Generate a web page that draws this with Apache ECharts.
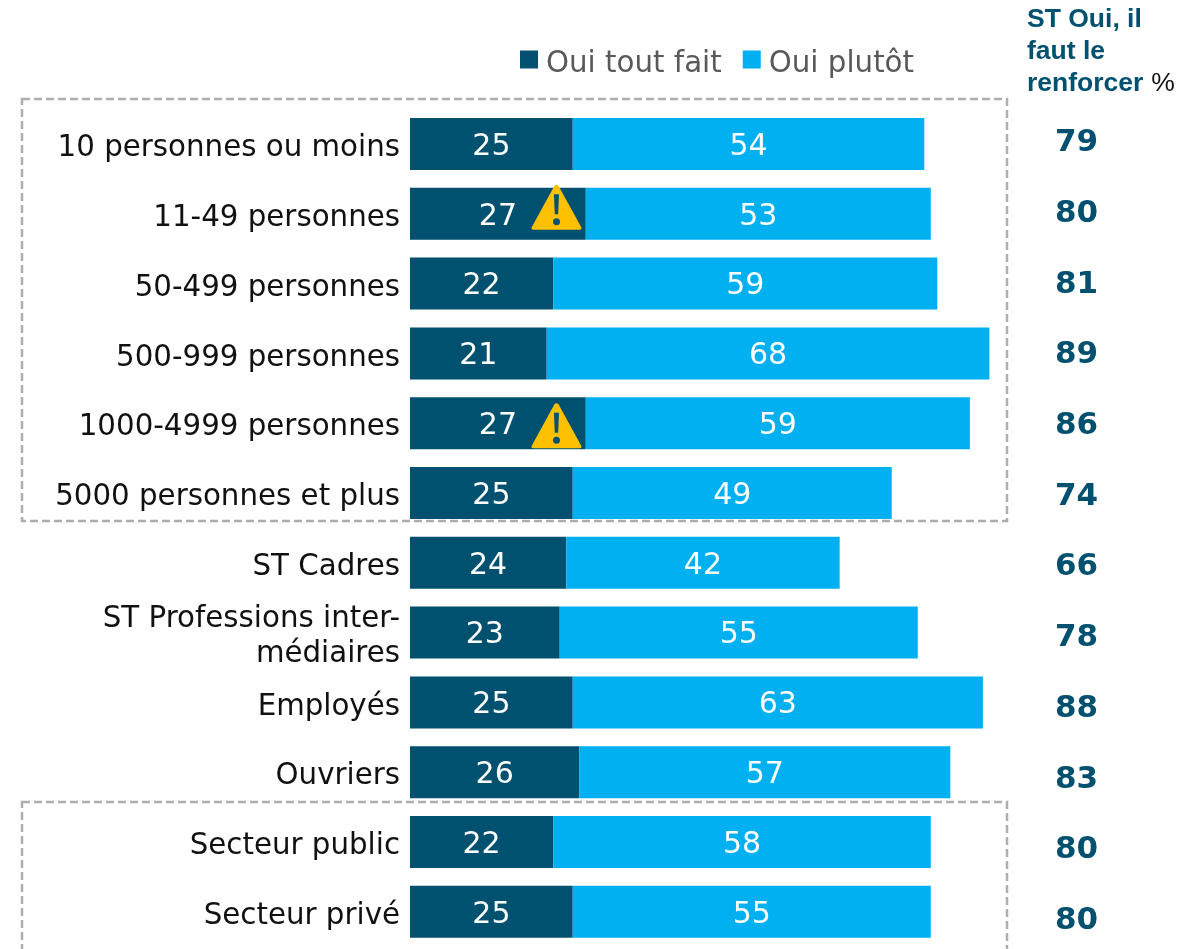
<!DOCTYPE html>
<html><head><meta charset="utf-8">
<style>html,body{margin:0;padding:0;background:#fff}#c{width:1195px;height:949px}</style>
<script src="https://cdn.jsdelivr.net/npm/echarts@6/dist/echarts.min.js"></script>
</head><body><div id="c"></div>
<script>
const categories = ['10 personnes ou moins','11-49 personnes','50-499 personnes','500-999 personnes','1000-4999 personnes','5000 personnes et plus','ST Cadres','ST Professions inter-\nmédiaires','Employés','Ouvriers','Secteur public','Secteur privé'];
const toutFait = [25,27,22,21,27,25,24,23,25,26,22,25];
const plutot = [54,53,59,68,59,49,42,55,63,57,58,55];
const totals = [79,80,81,89,86,74,66,78,88,83,80,80];
const warnedRows = ['11-49 personnes','1000-4999 personnes'];
const warnX = 22.5;

const DARK = '#00516F', BLUE = '#00B0F0', AMBER = '#FFC000';
const TRIANGLE = 'path://M46 3 Q50 -1 54 3 L99 84 Q102 90 96 90 L4 90 Q-2 90 1 84 Z';
const BANG = 'path://M1 0 H6 L5.2 20 H1.8 Z M3.5 24 A3.5 3.5 0 1 0 3.51 24 Z';
const LEGEND_ICON = 'path://M0 0H18V18H0Z M0 28H0.01V28.01H0Z';
const warnOffsets = [[-6.5,-4],[2.5,5]];
const warnMarks = warnedRows.flatMap((r,i) => [
  {coord:[warnX,r],symbol:TRIANGLE,symbolSize:[50,45],symbolOffset:[0,warnOffsets[i][0]],itemStyle:{color:AMBER}},
  {coord:[warnX,r],symbol:BANG,symbolSize:[7,31],symbolOffset:[0,warnOffsets[i][1]],itemStyle:{color:DARK}}
]);
const font = '"DejaVu Sans"';
const barLabel = {show:true,position:'inside',offset:[0,3],color:'#fff',fontFamily:font,fontSize:30};

const chart = echarts.init(document.getElementById('c'),null,{renderer:'canvas'});
chart.setOption({
  animation:false,
  backgroundColor:'#fff',
  title:{
    left:1022,top:-1,
    text:'{h|ST Oui, il}\n{h|faut le}\n{h|renforcer} {p|%}',
    textStyle:{fontWeight:'normal',rich:{
      h:{fontFamily:'"Liberation Sans"',fontWeight:'bold',fontSize:26.5,color:DARK,lineHeight:32},
      p:{fontFamily:'"Liberation Sans"',fontWeight:'normal',fontSize:26.5,color:'#111',lineHeight:32,padding:[0,0,0,3]}
    }}
  },
  legend:{
    left:515,top:45,itemWidth:18,itemHeight:28,itemGap:21,icon:LEGEND_ICON,
    data:['Oui tout fait','Oui plutôt'],
    textStyle:{fontFamily:font,fontSize:29.3,color:'#595959',padding:[0,0,0,3]}
  },
  grid:[
    {left:410,top:109.1,width:651,height:837.6,containLabel:false},
    {left:1000,top:143,width:55,height:778,containLabel:false},
    {left:410,top:148.5,width:651,height:767.8,containLabel:false}
  ],
  xAxis:[
    {gridIndex:0,type:'value',min:0,max:100,show:false},
    {gridIndex:1,type:'value',min:0,max:100,show:false},
    {gridIndex:2,type:'value',min:0,max:100,show:false}
  ],
  yAxis:[
    {gridIndex:0,type:'category',inverse:true,data:categories,
      axisLine:{show:false},axisTick:{show:false},axisLabel:{show:false}},
    {gridIndex:1,type:'category',inverse:true,position:'right',boundaryGap:false,data:totals,
      axisLine:{show:false},axisTick:{show:false},
      axisLabel:{margin:0,color:DARK,fontFamily:font,fontWeight:'bold',fontSize:31,align:'left',interval:0}},
    {gridIndex:2,type:'category',inverse:true,position:'left',boundaryGap:false,data:categories,
      axisLine:{show:false},axisTick:{show:false},
      axisLabel:{margin:10,color:'#111',fontFamily:font,fontSize:29.3,lineHeight:35,align:'right',interval:0}}
  ],
  series:[
    {name:'Oui tout fait',type:'bar',stack:'a',barWidth:52,data:toutFait,itemStyle:{color:DARK},label:barLabel,
      markPoint:{silent:true,label:{show:false},data:warnMarks},z:2},
    {name:'Oui plutôt',type:'bar',stack:'a',barWidth:52,data:plutot,itemStyle:{color:BLUE},label:barLabel,z:2}
  ],
  graphic:[
    {type:'rect',silent:true,z:0,shape:{x:22,y:99,width:985,height:422},style:{fill:null,stroke:'#AEAEAE',lineWidth:2.5,lineDash:[8,4]}},
    {type:'rect',silent:true,z:0,shape:{x:22,y:802,width:985,height:200},style:{fill:null,stroke:'#AEAEAE',lineWidth:2.5,lineDash:[8,4]}}
  ]
});
</script></body></html>
